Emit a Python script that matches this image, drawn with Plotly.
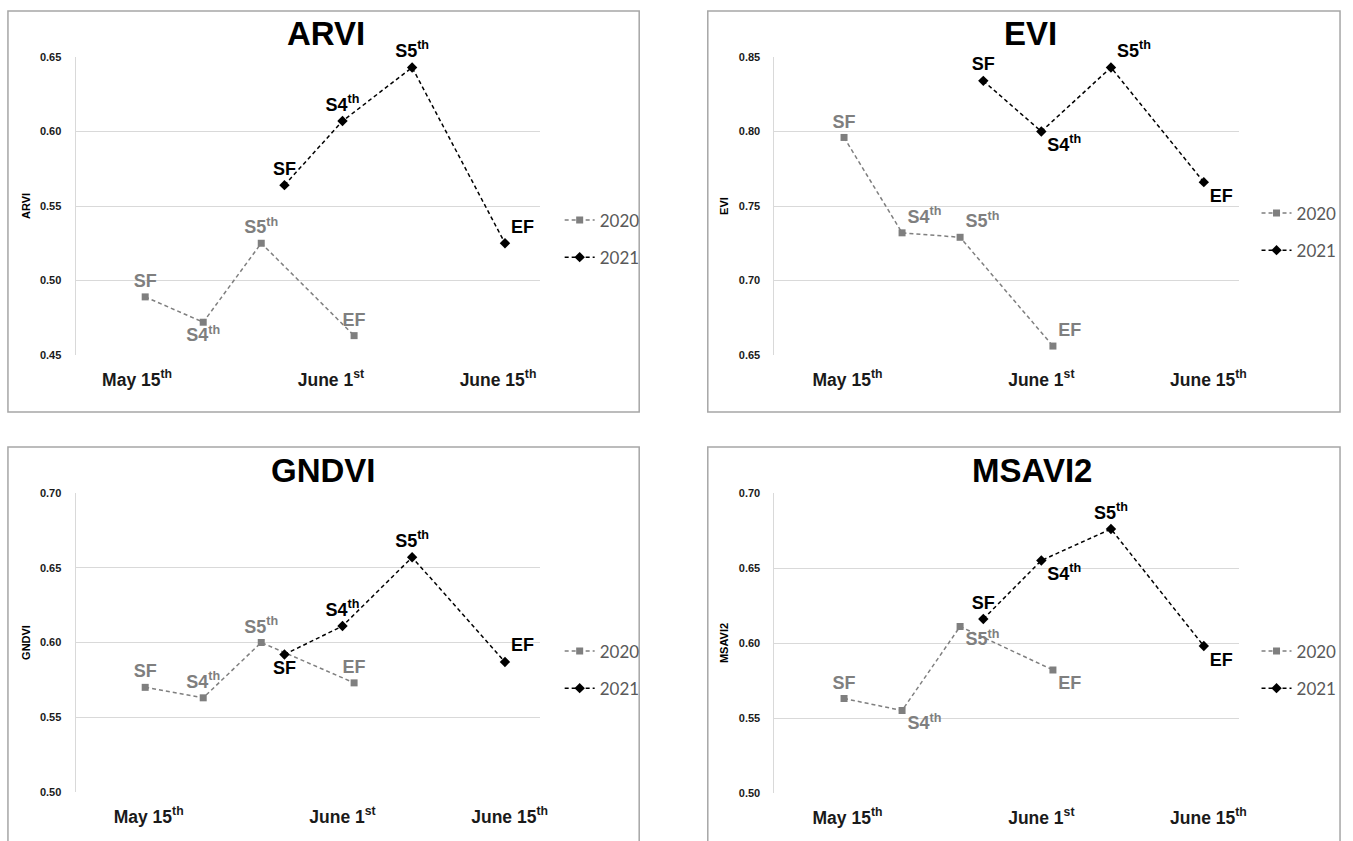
import plotly.graph_objects as go

# Sampling dates, as days counted from May 15th
days_2020 = [1, 6, 11, 19]
days_2021 = [13, 18, 24, 32]

stage_labels = ["SF", "S4<sup>th</sup>", "S5<sup>th</sup>", "EF"]
date_labels = ["May 15<sup>th</sup>", "June 1<sup>st</sup>", "June 15<sup>th</sup>"]

arvi_2020 = [0.489, 0.472, 0.525, 0.463]
arvi_2021 = [0.564, 0.607, 0.643, 0.525]
evi_2020 = [0.796, 0.732, 0.729, 0.656]
evi_2021 = [0.834, 0.800, 0.843, 0.766]
gndvi_2020 = [0.570, 0.563, 0.600, 0.573]
gndvi_2021 = [0.592, 0.611, 0.657, 0.587]
msavi2_2020 = [0.563, 0.555, 0.611, 0.582]
msavi2_2021 = [0.616, 0.655, 0.676, 0.598]

W, H = 1353, 841
GREY = "#7f7f7f"
BLACK = "#000000"
GRID = "#d9d9d9"
FONT = "Liberation Sans"


def px_x(v):
    return v / W


def px_y(v):
    return 1 - v / H


panels = [
    dict(name="ARVI", s2020=arvi_2020, s2021=arvi_2021, yr=[0.45, 0.65],
         pos_2020=["top center", "bottom center", "top center", "top center"],
         pos_2021=["top center", "top center", "top center", "top right"],
         box=(8, 643, 11, 412), plot=(76, 543, 57, 355), title_xy=(328, 33),
         legend_xy=(563, 239), tickvals=[0.3, 17.0, 31.4]),
    dict(name="EVI", s2020=evi_2020, s2021=evi_2021, yr=[0.65, 0.85],
         pos_2020=["top center", "top right", "top right", "top right"],
         pos_2021=["top center", "bottom right", "top right", "bottom right"],
         box=(712, 1348, 11, 412), plot=(779, 1246, 57, 355), title_xy=(1037, 33),
         legend_xy=(1264, 232), tickvals=[1.3, 18.0, 32.4]),
    dict(name="GNDVI", s2020=gndvi_2020, s2021=gndvi_2021, yr=[0.50, 0.70],
         pos_2020=["top center", "top center", "top center", "top center"],
         pos_2021=["bottom center", "top center", "top center", "top right"],
         box=(8, 643, 447, 848), plot=(76, 543, 493, 792), title_xy=(325, 470),
         legend_xy=(563, 670), tickvals=[1.3, 18.0, 32.4]),
    dict(name="MSAVI2", s2020=msavi2_2020, s2021=msavi2_2021, yr=[0.50, 0.70],
         pos_2020=["top center", "bottom right", "bottom right", "bottom right"],
         pos_2021=["top center", "bottom right", "top center", "bottom right"],
         box=(712, 1348, 447, 848), plot=(779, 1246, 493, 793), title_xy=(1038, 470),
         legend_xy=(1264, 670), tickvals=[1.3, 18.0, 32.4]),
]

fig = go.Figure()
layout = dict(
    width=W, height=H,
    margin=dict(l=0, r=0, t=0, b=0),
    paper_bgcolor="white", plot_bgcolor="white",
    font=dict(family=FONT, size=12, color=BLACK),
    shapes=[], annotations=[],
)

for i, p in enumerate(panels, start=1):
    sfx = "" if i == 1 else str(i)
    xa, ya = "x" + sfx, "y" + sfx
    leg = "legend" + sfx

    for year, vals, days, col, sym, msize, tpos in [
        ("2020", p["s2020"], days_2020, GREY, "square", 7, p["pos_2020"]),
        ("2021", p["s2021"], days_2021, BLACK, "diamond", 8, p["pos_2021"]),
    ]:
        fig.add_trace(go.Scatter(
            x=days, y=vals, xaxis=xa, yaxis=ya,
            mode="lines+markers+text", name=year,
            legend=leg, legendgroup=year,
            line=dict(color=col, width=1.5, dash="4px,3px"),
            marker=dict(symbol=sym, size=msize, color=col),
            text=stage_labels, textposition=tpos,
            textfont=dict(family=FONT, size=18, color=col, weight="bold"),
            cliponaxis=False, hoverinfo="skip",
        ))

    x0, x1, y0, y1 = p["plot"]
    layout["xaxis" + sfx] = dict(
        domain=[px_x(x0), px_x(x1)], anchor=ya, range=[-5, 35],
        showgrid=False, zeroline=False, showline=False, ticks="",
        tickmode="array", tickvals=p["tickvals"], ticktext=date_labels,
        tickfont=dict(family=FONT, size=17.5, color="#1a1a1a", weight="bold"),
        ticklabelstandoff=12, fixedrange=True,
    )
    layout["yaxis" + sfx] = dict(
        domain=[px_y(y1), px_y(y0)], anchor=xa, range=p["yr"],
        dtick=0.05, tick0=0, tickformat=".2f",
        showgrid=True, gridcolor=GRID, gridwidth=1,
        zeroline=False, showline=True, linecolor=GRID, linewidth=1,
        ticks="", ticklabelstandoff=11,
        tickfont=dict(family=FONT, size=11, color="#1a1a1a", weight="bold"),
        title=dict(text=p["name"], standoff=7,
                   font=dict(family=FONT, size=11, color=BLACK, weight="bold")),
        automargin=False, fixedrange=True,
    )

    lx, ly = p["legend_xy"]
    layout[leg] = dict(
        x=px_x(lx), y=px_y(ly), xanchor="left", yanchor="middle",
        bgcolor="rgba(0,0,0,0)", borderwidth=0,
        font=dict(family="Lato", size=17, color="#595959"),
        tracegroupgap=12, traceorder="grouped", itemwidth=30,
    )

    bx0, bx1, by0, by1 = p["box"]
    layout["shapes"].append(dict(
        type="rect", xref="paper", yref="paper",
        x0=px_x(bx0), x1=px_x(bx1), y0=px_y(by1), y1=px_y(by0),
        line=dict(color="#a6a6a6", width=1.5), fillcolor="rgba(0,0,0,0)",
        layer="below",
    ))

    tx, ty = p["title_xy"]
    layout["annotations"].append(dict(
        text="<b>%s</b>" % p["name"], xref="paper", yref="paper",
        x=px_x(tx), y=px_y(ty), xanchor="center", yanchor="middle",
        showarrow=False, font=dict(family=FONT, size=33, color=BLACK),
    ))

fig.update_layout(**layout)
fig.write_html("out.html")
